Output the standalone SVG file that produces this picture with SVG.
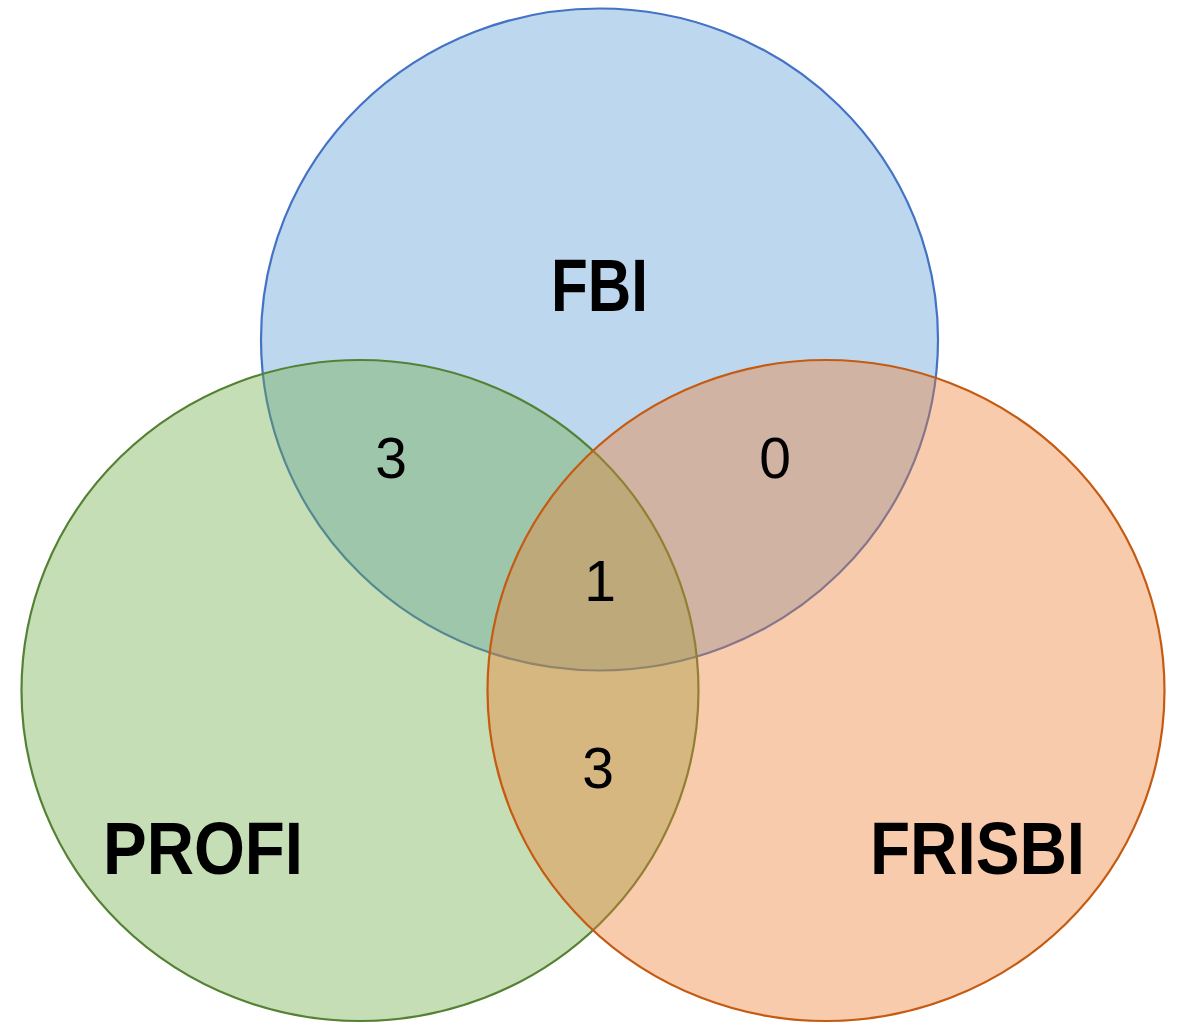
<svg xmlns="http://www.w3.org/2000/svg" width="1180" height="1023" viewBox="0 0 1180 1023">
<style>
.set{fill-opacity:0.4;stroke-width:2.2}
.lbl{font-family:"Liberation Sans",Arial,sans-serif;font-weight:bold;font-size:74px;fill:#000;text-anchor:middle}
.num{font-family:"Liberation Sans",Arial,sans-serif;font-size:57px;fill:#000;text-anchor:middle}
</style>
<rect width="1180" height="1023" fill="#fff"/>
<g id="fbi">
<ellipse class="set" cx="599.5" cy="339.5" rx="338.5" ry="331" fill="#5B9BD5" stroke="#4472C4"/>
</g>
<g id="profi">
<ellipse class="set" cx="360" cy="690.5" rx="338.5" ry="330.5" fill="#70AD47" stroke="#548235"/>
</g>
<g id="frisbi">
<ellipse class="set" cx="826" cy="690.5" rx="338.5" ry="330.5" fill="#ED7D31" stroke="#C55A11"/>
</g>
<g id="labels">
<text class="lbl" x="599.5" y="311" textLength="97" lengthAdjust="spacingAndGlyphs">FBI</text>
<text class="lbl" x="203" y="874" textLength="200" lengthAdjust="spacingAndGlyphs">PROFI</text>
<text class="lbl" x="977.5" y="874" textLength="215" lengthAdjust="spacingAndGlyphs">FRISBI</text>
</g>
<g id="counts">
<text class="num" x="391" y="478">3</text>
<text class="num" x="775" y="478">0</text>
<text class="num" x="600" y="601">1</text>
<text class="num" x="598" y="788">3</text>
</g>
</svg>
